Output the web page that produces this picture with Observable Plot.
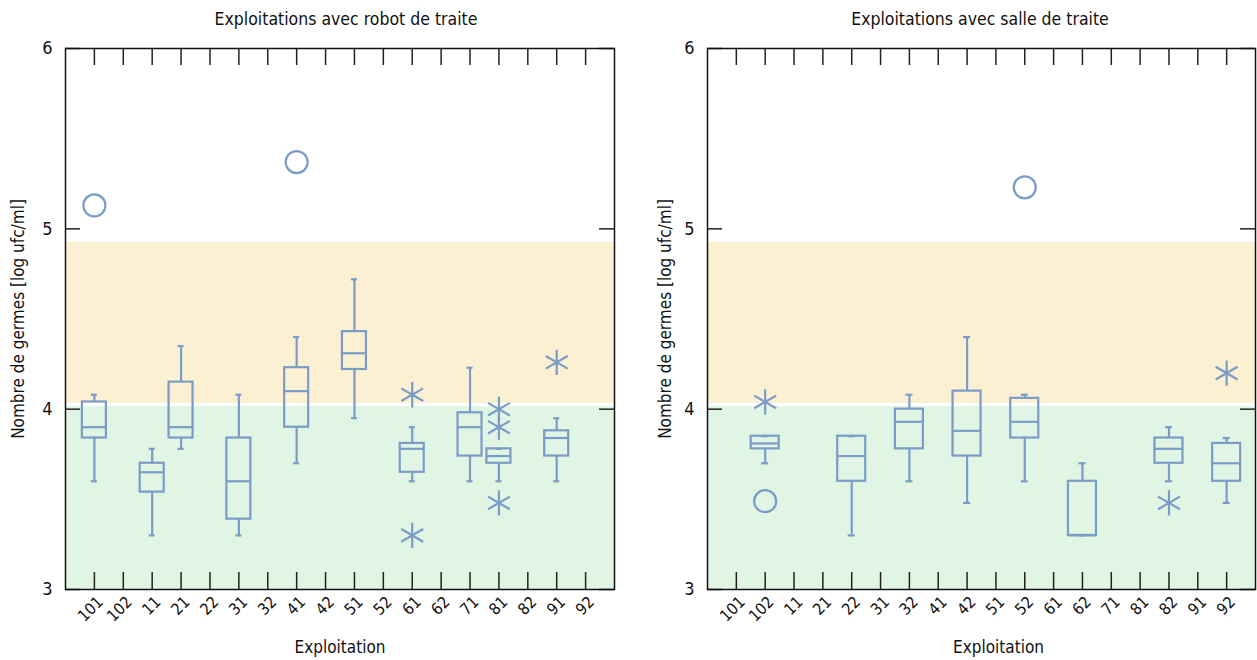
<!DOCTYPE html>
<html><head><meta charset="utf-8">
<script src="https://cdn.jsdelivr.net/npm/d3@7"></script>
<script src="https://cdn.jsdelivr.net/npm/@observablehq/plot@0.6"></script>
<style>
body{margin:0;background:#fff;width:1257px;height:660px;position:relative;overflow:hidden;font-family:"Liberation Sans Narrow","DejaVu Sans Condensed","Roboto Condensed",sans-serif;}
.title{position:absolute;top:0;height:38px;line-height:38px;font-size:17.5px;color:#111;transform:translateX(-50%);white-space:nowrap;}
.panel{position:absolute;top:38px;}
</style></head><body>
<div class="title" style="left:346px">Exploitations avec robot de traite</div>
<div class="title" style="left:980px">Exploitations avec salle de traite</div>
<div id="p1" class="panel" style="left:0"></div>
<div id="p2" class="panel" style="left:642px"></div>
<script>
const categories = ["101","102","11","21","22","31","32","41","42","51","52","61","62","71","81","82","91","92"];
const yTicks = [3, 4, 5, 6];
const greenZone = [3, 4.014];
const orangeZone = [4.031, 4.926];

// Robot de traite
const robotCat  = ["101","11","21","31","41","51","61","71","81","91"];
const robotLow  = [3.60, 3.30, 3.78, 3.30, 3.70, 3.95, 3.60, 3.60, 3.60, 3.60];
const robotQ1   = [3.84, 3.54, 3.84, 3.39, 3.90, 4.22, 3.65, 3.74, 3.70, 3.74];
const robotMed  = [3.90, 3.65, 3.90, 3.60, 4.10, 4.31, 3.78, 3.90, 3.74, 3.84];
const robotQ3   = [4.04, 3.70, 4.15, 3.84, 4.23, 4.43, 3.81, 3.98, 3.78, 3.88];
const robotHigh = [4.08, 3.78, 4.35, 4.08, 4.40, 4.72, 3.90, 4.23, 3.78, 3.95];
const robotCircleCat = ["101","41"];
const robotCircleVal = [5.13, 5.37];
const robotStarCat = ["61","61","81","81","81","91"];
const robotStarVal = [4.08, 3.30, 4.00, 3.90, 3.48, 4.26];

// Salle de traite
const salleCat  = ["102","22","32","42","52","62","82","92"];
const salleLow  = [3.70, 3.30, 3.60, 3.48, 3.60, 3.30, 3.60, 3.48];
const salleQ1   = [3.78, 3.60, 3.78, 3.74, 3.84, 3.30, 3.70, 3.60];
const salleMed  = [3.81, 3.74, 3.93, 3.88, 3.93, 3.30, 3.78, 3.70];
const salleQ3   = [3.85, 3.85, 4.00, 4.10, 4.06, 3.60, 3.84, 3.81];
const salleHigh = [3.85, 3.85, 4.08, 4.40, 4.08, 3.70, 3.90, 3.84];
const salleCircleCat = ["102","52"];
const salleCircleVal = [3.49, 5.23];
const salleStarCat = ["102","82","92"];
const salleStarVal = [4.04, 3.48, 4.20];

const BLUE = "#7a9cc6";
const FONT = '"Liberation Sans Narrow","DejaVu Sans Condensed","Roboto Condensed",sans-serif';

function panel(o) {
  const rows = o.cat.map((c, i) => ({c, low: o.low[i], q1: o.q1[i], med: o.med[i], q3: o.q3[i], high: o.high[i]}));
  const circles = o.circCat.map((c, i) => ({c, v: o.circVal[i]}));
  const stars = o.starCat.map((c, i) => ({c, v: o.starVal[i]}));
  const H = 541;
  const innerW = o.width - o.marginLeft - o.marginRight;
  const step = innerW / 19;
  const pi = 1 - o.boxW / step;
  const po = 0.5 + pi / 2;
  const capInset = (o.boxW - o.capW) / 2;
  return Plot.plot({
    width: o.width, height: 622,
    marginTop: 10, marginBottom: 71, marginLeft: o.marginLeft, marginRight: o.marginRight,
    style: {fontFamily: FONT, fontSize: "15px", color: "#111", background: "transparent", overflow: "visible"},
    x: {type: "band", domain: categories, paddingInner: pi, paddingOuter: po, round: false, label: null},
    y: {domain: [3, 6], label: null},
    marks: [
      Plot.barY([greenZone], {y1: d => d[0], y2: d => d[1], fill: "#e0f5e4"}),
      Plot.barY([orangeZone], {y1: d => d[0], y2: d => d[1], fill: "#fcf0d2"}),
      Plot.axisX({tickSize: 0, tickRotate: -45, tickPadding: 10, dx: 6, fontSize: 16, label: null}),
      Plot.axisY({ticks: yTicks, tickFormat: d3.format("d"), tickSize: 0, tickPadding: 13, fontSize: 18, label: null}),
      Plot.tickX(categories, {x: d => d, insetTop: H - 17, stroke: "#222", strokeWidth: 1.5}),
      Plot.tickX(categories, {x: d => d, insetBottom: H - 17, stroke: "#222", strokeWidth: 1.5}),
      Plot.tickY(yTicks, {y: d => d, insetRight: innerW - 15, stroke: "#222", strokeWidth: 1.5}),
      Plot.tickY(yTicks, {y: d => d, insetLeft: innerW - 15, stroke: "#222", strokeWidth: 1.5}),
      Plot.ruleX(rows, {x: "c", y1: "low", y2: "q1", stroke: BLUE, strokeWidth: 2.2}),
      Plot.ruleX(rows, {x: "c", y1: "q3", y2: "high", stroke: BLUE, strokeWidth: 2.2}),
      Plot.tickY(rows, {x: "c", y: "low", insetLeft: capInset, insetRight: capInset, stroke: BLUE, strokeWidth: 2.2}),
      Plot.tickY(rows, {x: "c", y: "high", insetLeft: capInset, insetRight: capInset, stroke: BLUE, strokeWidth: 2.2}),
      Plot.barY(rows, {x: "c", y1: "q1", y2: "q3", fill: "none", stroke: BLUE, strokeWidth: 2.2}),
      Plot.tickY(rows, {x: "c", y: "med", stroke: BLUE, strokeWidth: 2.2}),
      Plot.dot(circles, {x: "c", y: "v", r: 11, symbol: "circle", fill: "none", stroke: BLUE, strokeWidth: 2.2}),
      Plot.dot(stars, {x: "c", y: "v", r: 12, symbol: "asterisk", stroke: BLUE, strokeWidth: 2.2}),
      Plot.frame({stroke: "#111", strokeWidth: 1.5}),
      Plot.text(["Nombre de germes [log ufc/ml]"], {frameAnchor: "left", textAnchor: "middle", rotate: -90, dx: o.ylabelDx, fontSize: 17, fill: "#111"}),
      Plot.text(["Exploitation"], {frameAnchor: "bottom", dy: 63, dx: o.xlabelDx, fontSize: 17, fill: "#111"})
    ]
  });
}

document.getElementById("p1").append(panel({
  cat: robotCat, low: robotLow, q1: robotQ1, med: robotMed, q3: robotQ3, high: robotHigh,
  circCat: robotCircleCat, circVal: robotCircleVal, starCat: robotStarCat, starVal: robotStarVal,
  width: 630, marginLeft: 65, marginRight: 16, boxW: 24, capW: 6, ylabelDx: -47, xlabelDx: 0
}));
document.getElementById("p2").append(panel({
  cat: salleCat, low: salleLow, q1: salleQ1, med: salleMed, q3: salleQ3, high: salleHigh,
  circCat: salleCircleCat, circVal: salleCircleVal, starCat: salleStarCat, starVal: salleStarVal,
  width: 615, marginLeft: 65, marginRight: 2, boxW: 28, capW: 7, ylabelDx: -42, xlabelDx: 17
}));
</script>
</body></html>
